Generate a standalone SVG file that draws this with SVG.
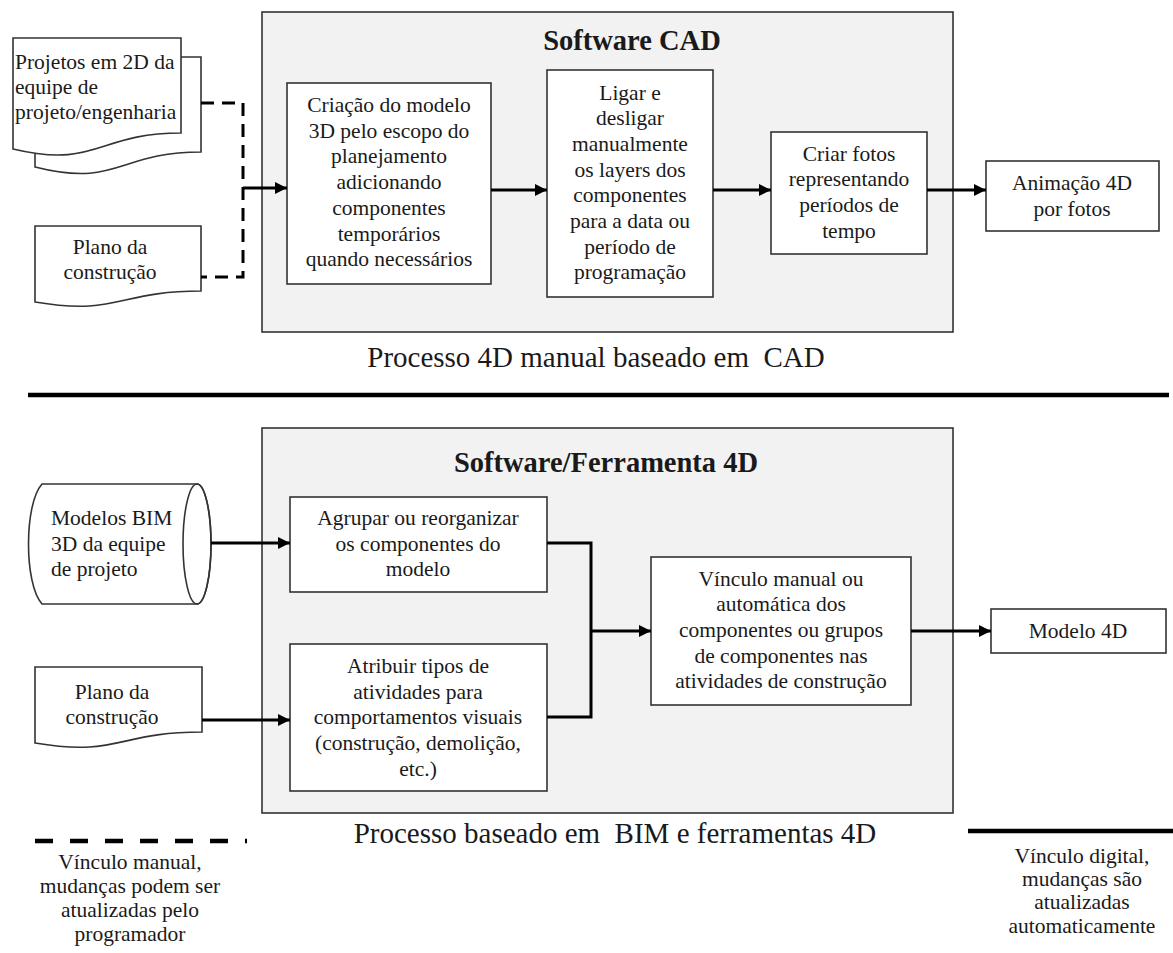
<svg xmlns="http://www.w3.org/2000/svg" width="1173" height="953" viewBox="0 0 1173 953">
<style>
text{font-family:"Liberation Serif","Times New Roman",serif;fill:#1a1a1a}
.t{font-size:21.5px;text-anchor:middle}
.tl{font-size:21.5px;text-anchor:start}
.title{font-size:28.5px;font-weight:bold;text-anchor:middle}
.cap{font-size:29px;text-anchor:middle}
.box{fill:#fff;stroke:#333;stroke-width:1.6}
.panel{fill:#f2f2f2;stroke:#333;stroke-width:1.6}
.shape{fill:#fff;stroke:#333;stroke-width:1.6}
.arr{fill:none;stroke:#000;stroke-width:3;marker-end:url(#ah)}
.ln{fill:none;stroke:#000;stroke-width:3}
.dash{fill:none;stroke:#000;stroke-width:3;stroke-dasharray:13 8}
</style>
<defs>
<marker id="ah" viewBox="0 0 10 10" refX="10" refY="5" markerWidth="4.2" markerHeight="4" orient="auto" markerUnits="strokeWidth">
<path d="M0,0 L10,5 L0,10 z" fill="#000"/>
</marker>
</defs>

<g id="panel-cad">
<rect class="panel" x="262" y="12" width="691" height="320"/>
<text class="title" x="632" y="50">Software CAD</text>
</g>
<g id="panel-4d">
<rect class="panel" x="262" y="428" width="691" height="385"/>
<text class="title" x="606" y="472">Software/Ferramenta 4D</text>
</g>

<g id="doc-projetos">
<path class="shape" d="M35,57 H201 V152 C118,152 118,188 35,167 Z"/>
<path class="shape" d="M13,38 H181 V133 C97,133 97,169 13,149 Z"/>
<text class="tl" x="15" y="69">Projetos em 2D da</text>
<text class="tl" x="15" y="94">equipe de</text>
<text class="tl" x="15" y="119">projeto/engenharia</text>
</g>

<g id="doc-plano-top">
<path class="shape" d="M35,226 H201 V291 C118,291 118,316 35,302 Z"/>
<text class="t" x="110" y="254">Plano da</text>
<text class="t" x="110" y="279">construção</text>
</g>

<g id="box-criacao">
<rect class="box" x="287" y="83" width="204" height="201"/>
<text class="t" x="389" y="112">Criação do modelo</text>
<text class="t" x="389" y="137.7">3D pelo escopo do</text>
<text class="t" x="389" y="163.4">planejamento</text>
<text class="t" x="389" y="189.1">adicionando</text>
<text class="t" x="389" y="214.8">componentes</text>
<text class="t" x="389" y="240.5">temporários</text>
<text class="t" x="389" y="266.2">quando necessários</text>
</g>

<g id="box-ligar">
<rect class="box" x="547" y="70" width="166" height="227"/>
<text class="t" x="630" y="99.5">Ligar e</text>
<text class="t" x="630" y="125.2">desligar</text>
<text class="t" x="630" y="150.9">manualmente</text>
<text class="t" x="630" y="176.6">os layers dos</text>
<text class="t" x="630" y="202.3">componentes</text>
<text class="t" x="630" y="228">para a data ou</text>
<text class="t" x="630" y="253.7">período de</text>
<text class="t" x="630" y="279.4">programação</text>
</g>

<g id="box-fotos">
<rect class="box" x="771" y="132" width="156" height="122"/>
<text class="t" x="849" y="160.5">Criar fotos</text>
<text class="t" x="849" y="186.2">representando</text>
<text class="t" x="849" y="211.9">períodos de</text>
<text class="t" x="849" y="237.6">tempo</text>
</g>

<g id="box-animacao">
<rect class="box" x="986" y="161" width="173" height="70"/>
<text class="t" x="1072" y="190">Animação 4D</text>
<text class="t" x="1072" y="215.7">por fotos</text>
</g>

<g id="caption-cad">
<text class="cap" x="596" y="367" xml:space="preserve">Processo 4D manual baseado em  CAD</text>
</g>

<g id="separator">
<line x1="28" y1="395" x2="1169" y2="395" stroke="#000" stroke-width="4.5"/>
</g>

<g id="cyl-bim">
<path class="shape" d="M42,484 H197 A14,60 0 0 1 197,604 H42 C24,584 24,504 42,484 Z"/>
<ellipse cx="197" cy="544" rx="14" ry="60" fill="none" stroke="#333" stroke-width="1.6"/>
<text class="tl" x="51" y="525">Modelos BIM</text>
<text class="tl" x="51" y="551">3D da equipe</text>
<text class="tl" x="51" y="576">de projeto</text>
</g>

<g id="doc-plano-bottom">
<path class="shape" d="M35,667 H202 V732 C118,732 118,757 35,743 Z"/>
<text class="t" x="112" y="699">Plano da</text>
<text class="t" x="112" y="724">construção</text>
</g>

<g id="box-agrupar">
<rect class="box" x="290" y="497" width="257" height="95"/>
<text class="t" x="418" y="525">Agrupar ou reorganizar</text>
<text class="t" x="418" y="550.7">os componentes do</text>
<text class="t" x="418" y="576.4">modelo</text>
</g>

<g id="box-atribuir">
<rect class="box" x="290" y="644" width="257" height="147"/>
<text class="t" x="418" y="673">Atribuir tipos de</text>
<text class="t" x="418" y="698.7">atividades para</text>
<text class="t" x="418" y="724.4">comportamentos visuais</text>
<text class="t" x="418" y="750.1">(construção, demolição,</text>
<text class="t" x="418" y="775.8">etc.)</text>
</g>

<g id="box-vinculo">
<rect class="box" x="651" y="557" width="260" height="148"/>
<text class="t" x="781" y="585.6">Vínculo manual ou</text>
<text class="t" x="781" y="611.3">automática dos</text>
<text class="t" x="781" y="637">componentes ou grupos</text>
<text class="t" x="781" y="662.7">de componentes nas</text>
<text class="t" x="781" y="688.4">atividades de construção</text>
</g>

<g id="box-modelo4d">
<rect class="box" x="991" y="609" width="175" height="44"/>
<text class="t" x="1078" y="638">Modelo 4D</text>
</g>

<g id="caption-bim">
<text class="cap" x="615" y="843" xml:space="preserve">Processo baseado em  BIM e ferramentas 4D</text>
</g>

<g id="legend-manual">
<line x1="35" y1="841" x2="247" y2="841" stroke="#000" stroke-width="4.5" stroke-dasharray="18 17"/>
<text class="t" x="130" y="869">Vínculo manual,</text>
<text class="t" x="130" y="893">mudanças podem ser</text>
<text class="t" x="130" y="917">atualizadas pelo</text>
<text class="t" x="130" y="941">programador</text>
</g>

<g id="legend-digital">
<line x1="968" y1="831" x2="1173" y2="831" stroke="#000" stroke-width="4.5"/>
<text class="t" x="1082" y="863">Vínculo digital,</text>
<text class="t" x="1082" y="886">mudanças são</text>
<text class="t" x="1082" y="909">atualizadas</text>
<text class="t" x="1082" y="933">automaticamente</text>
</g>

<g id="connectors">
<path class="dash" d="M201,103 H243 V277 H201"/>
<path class="arr" d="M243,188 H287"/>
<path class="arr" d="M491,190 H547"/>
<path class="arr" d="M713,190 H771"/>
<path class="arr" d="M927,190 H986"/>
<path class="arr" d="M211,543 H290"/>
<path class="arr" d="M202,720 H290"/>
<path class="ln" d="M547,543 H591 V717 H547"/>
<path class="arr" d="M591,631 H651"/>
<path class="arr" d="M911,631 H991"/>
</g>
</svg>
